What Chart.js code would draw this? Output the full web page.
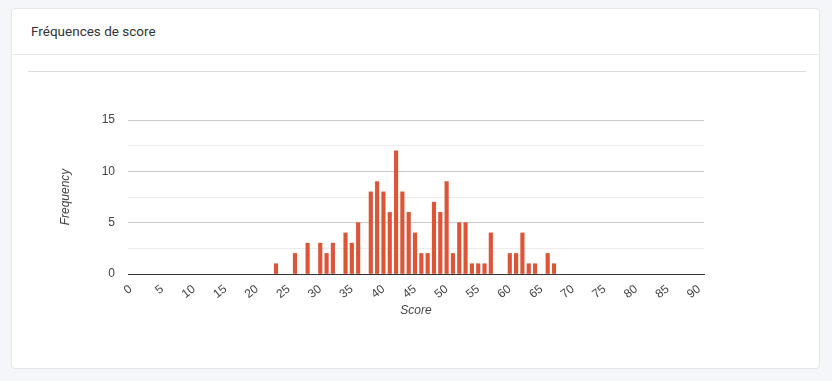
<!DOCTYPE html>
<html>
<head>
<meta charset="utf-8">
<script src="https://cdn.jsdelivr.net/npm/chart.js@4.4.1/dist/chart.umd.min.js"></script>
<style>
  html, body { margin: 0; padding: 0; }
  body { width: 832px; height: 381px; background: #f4f6f9; position: relative; overflow: hidden; }
  .card { position: absolute; left: 11px; top: 8px; width: 807px; height: 359px; background: #fff;
          border: 1px solid #e2e5e9; border-radius: 4px; }
  .head { position: absolute; left: 0; top: 0; width: 807px; height: 45px; border-bottom: 1px solid #e6e8eb; }
  .head span { position: absolute; left: 19px; top: 14px; font-family: "Helvetica Neue", Roboto, "Liberation Sans", Arial, sans-serif;
               font-size: 13.5px; color: #2f3338; }
  .rule { position: absolute; left: 16px; top: 62px; width: 778px; height: 1px; background: #dcdcdc; }
  .wrap { position: absolute; left: 11px; top: 72px; width: 809px; height: 297px; }
</style>
</head>
<body>
<div class="card">
  <div class="head"><span>Fréquences de score</span></div>
  <div class="rule"></div>
</div>
<div class="wrap"><canvas id="c" width="809" height="297"></canvas></div>
<script>
const scores      = [23, 26, 28, 30, 31, 32, 34, 35, 36, 38, 39, 40, 41, 42, 43, 44, 45, 46, 47, 48, 49, 50, 51, 52, 53, 54, 55, 56, 57, 60, 61, 62, 63, 64, 66, 67];
const frequencies = [ 1,  2,  3,  3,  2,  3,  4,  3,  5,  8,  9,  8,  6, 12,  8,  6,  4,  2,  2,  7,  6,  9,  2,  5,  5,  1,  1,  1,  4,  2,  2,  4,  1,  1,  2,  1];
const xTicks      = [0, 5, 10, 15, 20, 25, 30, 35, 40, 45, 50, 55, 60, 65, 70, 75, 80, 85, 90];
const yTicks      = [0, 5, 10, 15];

const tickFont = { family: '"Liberation Sans", Arial, sans-serif', size: 12 };
const titleFont = { family: '"Liberation Sans", Arial, sans-serif', size: 12, style: 'italic' };

new Chart(document.getElementById('c'), {
  type: 'bar',
  data: {
    datasets: [{
      data: scores.map((s, i) => ({ x: s, y: frequencies[i] })),
      backgroundColor: '#dc5536',
      borderWidth: 0,
      barThickness: 3.5
    }]
  },
  options: {
    responsive: false,
    animation: false,
    layout: { padding: { left: 0, top: 48, right: 116, bottom: 0 } },
    plugins: { legend: { display: false }, tooltip: { enabled: false } },
    scales: {
      x: {
        type: 'linear',
        offset: false,
        min: -0.43,
        max: 90.74,
        afterBuildTicks: s => { s.ticks = xTicks.map(v => ({ value: v })); },
        afterFit: s => { s.height = 95; },
        grid: { display: false, drawTicks: false },
        border: { display: true, color: '#333333', width: 1 },
        ticks: { font: tickFont, color: '#444444', minRotation: 38, maxRotation: 38, padding: 8, autoSkip: false },
        title: { display: true, text: 'Score', font: titleFont, color: '#444444', padding: { top: 0, bottom: 51 } }
      },
      y: {
        min: 0,
        max: 15,
        ticks: {
          stepSize: 2.5,
          font: tickFont,
          color: '#444444',
          padding: 13,
          callback: v => (yTicks.includes(v) ? String(v) : '')
        },
        afterFit: s => { s.width = 117; },
        grid: {
          drawTicks: false,
          color: ctx => (ctx.tick.value === 0 ? '#333333' : (ctx.tick.value % 5 === 0 ? '#cccccc' : '#ebebeb'))
        },
        border: { display: false },
        title: { display: true, text: 'Frequency', font: titleFont, color: '#444444', padding: { top: 47, bottom: 0 } }
      }
    }
  }
});
</script>
</body>
</html>
